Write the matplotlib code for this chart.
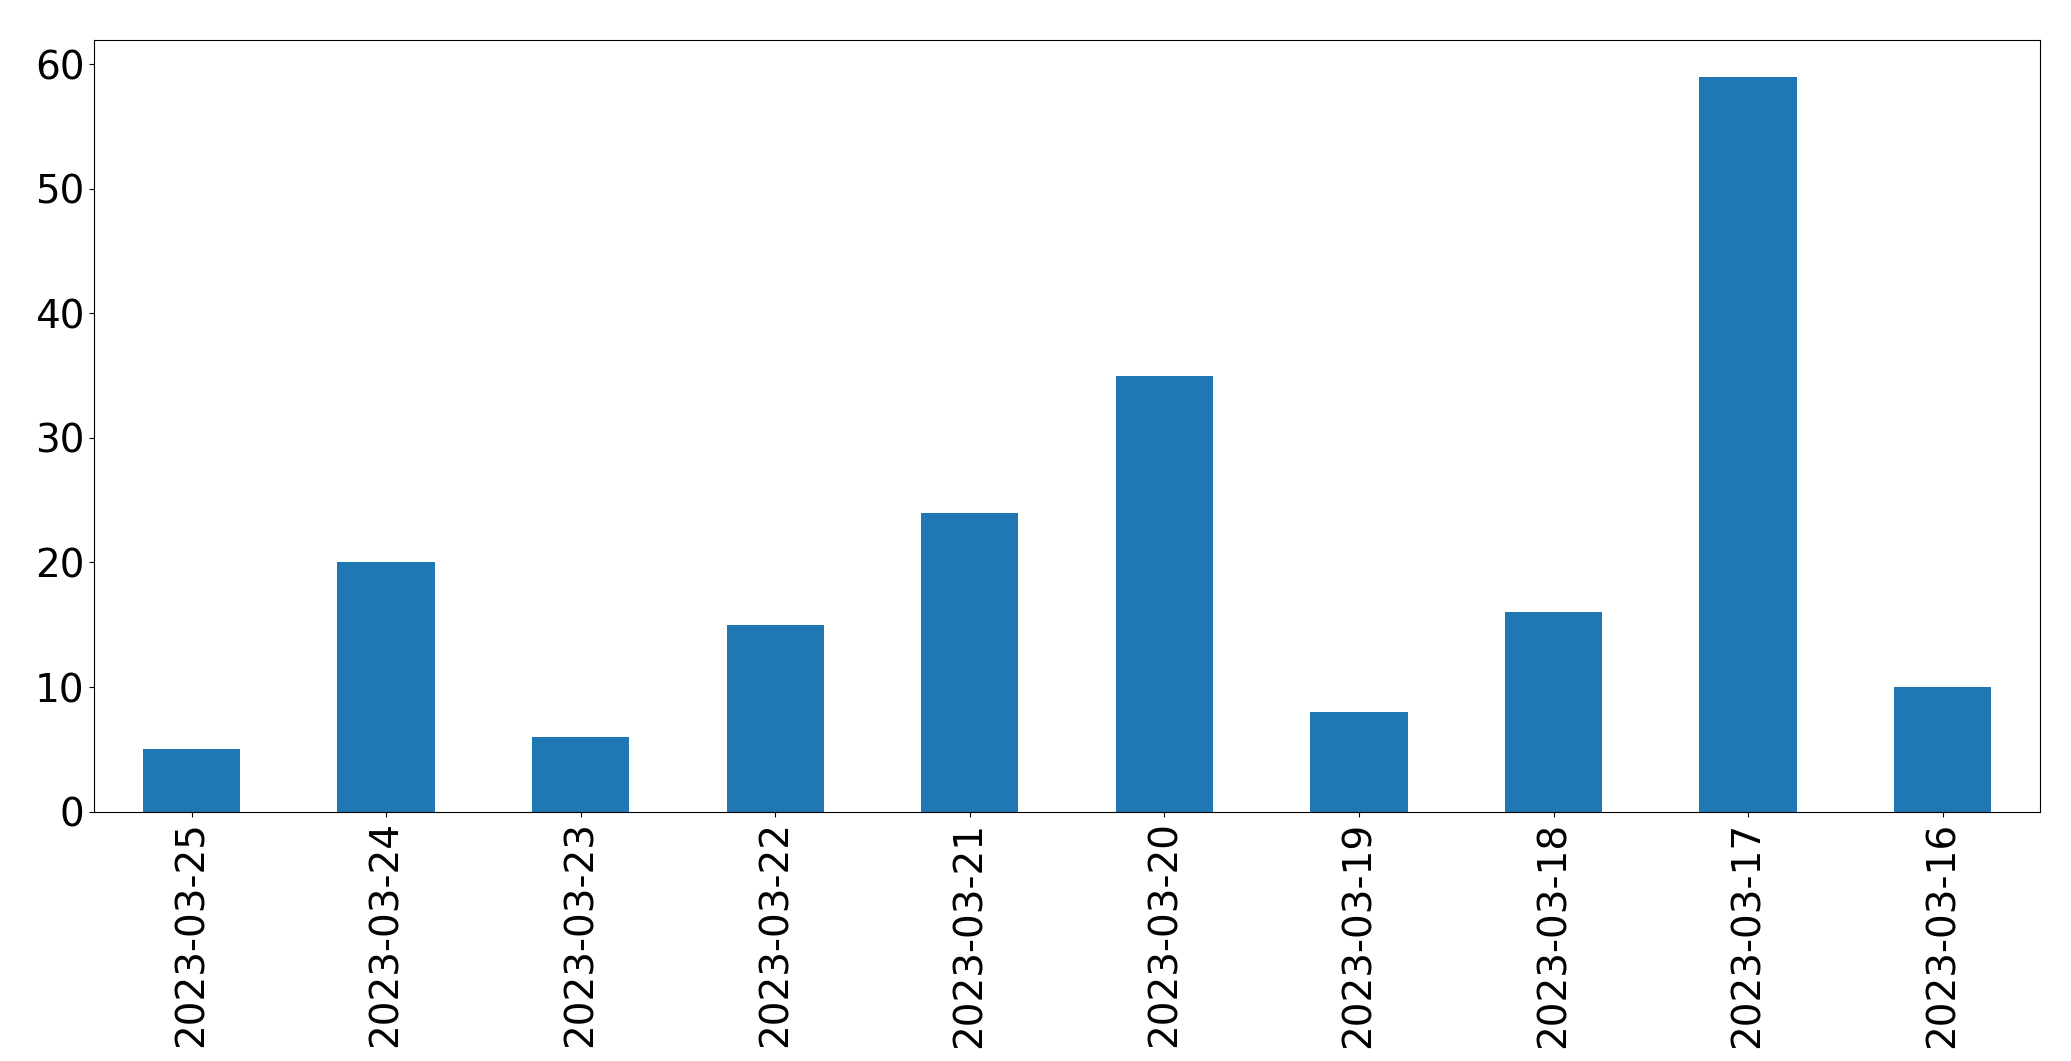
import matplotlib
matplotlib.use("Agg")
import matplotlib.pyplot as plt

dates = ["2023-03-25", "2023-03-24", "2023-03-23", "2023-03-22", "2023-03-21",
         "2023-03-20", "2023-03-19", "2023-03-18", "2023-03-17", "2023-03-16"]
counts = [5, 20, 6, 15, 24, 35, 8, 16, 59, 10]

fig, ax = plt.subplots(figsize=(20.71, 10.61), dpi=100)
fig.subplots_adjust(left=0.0455, right=0.985, top=0.9625, bottom=0.235)
ax.bar(range(len(dates)), counts, width=0.5, color="#1f77b4")
ax.set_xticks(range(len(dates)))
ax.set_xticklabels(dates, rotation=90)
ax.set_xlim(-0.5, len(dates) - 0.5)
ax.tick_params(labelsize=28)
fig.savefig("out.png")
